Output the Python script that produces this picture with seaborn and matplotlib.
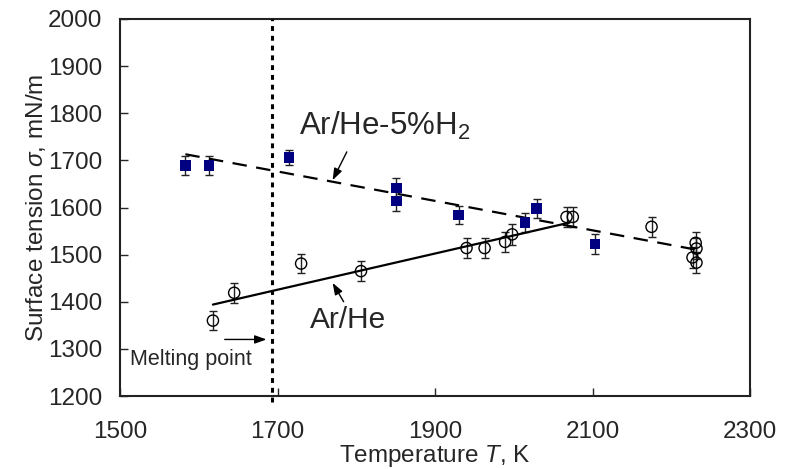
import pandas as pd
import seaborn as sns
from matplotlib import pyplot as plt

# Ar/He-5%H2 measurements (filled squares)
h2_temp = [1583, 1613, 1715, 1851, 1851, 1930, 2014, 2029, 2103]
h2_sigma = [1689, 1689, 1706, 1642, 1614, 1584, 1568, 1598, 1523]
h2_err = [21, 21, 15, 21, 21, 20, 20, 21, 21]

# Ar/He measurements (open circles)
he_temp = [1618, 1645, 1730, 1806, 1940, 1963, 1989, 1998, 2067, 2075,
           2175, 2227, 2231, 2232, 2232]
he_sigma = [1360, 1419, 1481, 1465, 1514, 1514, 1527, 1543, 1580, 1580,
            1559, 1494, 1525, 1513, 1483]
he_err = [21, 21, 21, 21, 22, 22, 22, 22, 22, 22, 21, 22, 22, 22, 22]

# fitted lines (end points)
h2_fit_temp = [1583, 2230]
h2_fit_sigma = [1713, 1511]
he_fit_temp = [1618, 2071]
he_fit_sigma = [1394, 1568]

melting_point = 1693

x_ticks = [1500, 1700, 1900, 2100, 2300]
y_ticks = [1200, 1300, 1400, 1500, 1600, 1700, 1800, 1900, 2000]

sns.set_style("white")
plt.rcParams["font.family"] = ["Liberation Sans", "DejaVu Sans"]
plt.rcParams["mathtext.fontset"] = "custom"
plt.rcParams["mathtext.rm"] = "Liberation Sans"
plt.rcParams["mathtext.it"] = "Liberation Sans:italic"

h2 = pd.DataFrame({"T": h2_temp, "sigma": h2_sigma, "err": h2_err})
he = pd.DataFrame({"T": he_temp, "sigma": he_sigma, "err": he_err})

fig = plt.figure(figsize=(7.91, 4.69), dpi=100)
ax = fig.add_axes([120 / 791, 1 - 396 / 469, 630 / 791, 377 / 469])

# error bars first, markers on top
ax.errorbar(he["T"], he["sigma"], yerr=he["err"], fmt="none", ecolor="#222222",
            elinewidth=1, capsize=3, capthick=1, zorder=2)
ax.errorbar(h2["T"], h2["sigma"], yerr=h2["err"], fmt="none", ecolor="#222222",
            elinewidth=1, capsize=3, capthick=1, zorder=2)

sns.lineplot(x=h2_fit_temp, y=h2_fit_sigma, color="black", lw=1.6,
             linestyle=(0, (6.5, 4.3)), ax=ax, zorder=3)
sns.lineplot(x=he_fit_temp, y=he_fit_sigma, color="black", lw=1.6, ax=ax, zorder=3)

sns.scatterplot(data=he, x="T", y="sigma", marker="o", s=65, facecolor="none",
                edgecolor="black", linewidth=1, ax=ax, zorder=4)
sns.scatterplot(data=h2, x="T", y="sigma", marker="s", s=55, color="#000080",
                edgecolor="none", ax=ax, zorder=5)

# melting point line
ax.axvline(melting_point, ymin=-0.016, ymax=1, color="black", lw=2.2,
           linestyle=(0, (1.6, 1.6)), clip_on=False, zorder=3)

arrow = dict(arrowstyle="-|>,head_length=0.5,head_width=0.18", color="black",
             lw=1, mutation_scale=14, shrinkA=0, shrinkB=0)
ax.text(1727, 1754, "Ar/He-5%H$_\\mathregular{2}$", fontsize=22.5, va="baseline")
ax.annotate("", xy=(1770, 1658), xytext=(1788, 1718), arrowprops=arrow)
ax.text(1741, 1345, "Ar/He", fontsize=21.5, va="baseline")
ax.annotate("", xy=(1770, 1440), xytext=(1784, 1400), arrowprops=arrow)
ax.text(1513, 1266, "Melting point", fontsize=15.5, va="baseline")
ax.annotate("", xy=(1686, 1320), xytext=(1633, 1320), arrowprops=arrow)

ax.set_xlim(1500, 2300)
ax.set_ylim(1200, 2000)
ax.set_xticks(x_ticks)
ax.set_yticks(y_ticks)
ax.tick_params(axis="both", direction="in", length=6, width=1, labelsize=17.5,
               bottom=True, left=True, top=False, right=False)
ax.tick_params(axis="x", pad=18)
ax.tick_params(axis="y", pad=13)
for side in ax.spines.values():
    side.set_color("#222222")
    side.set_linewidth(1.5)

ax.set_xlabel("Temperature $T$, K", fontsize=17.5, labelpad=0)
ax.set_ylabel("Surface tension $\\sigma$, mN/m", fontsize=17.5, labelpad=0)

fig.savefig("out.png", dpi=100)
